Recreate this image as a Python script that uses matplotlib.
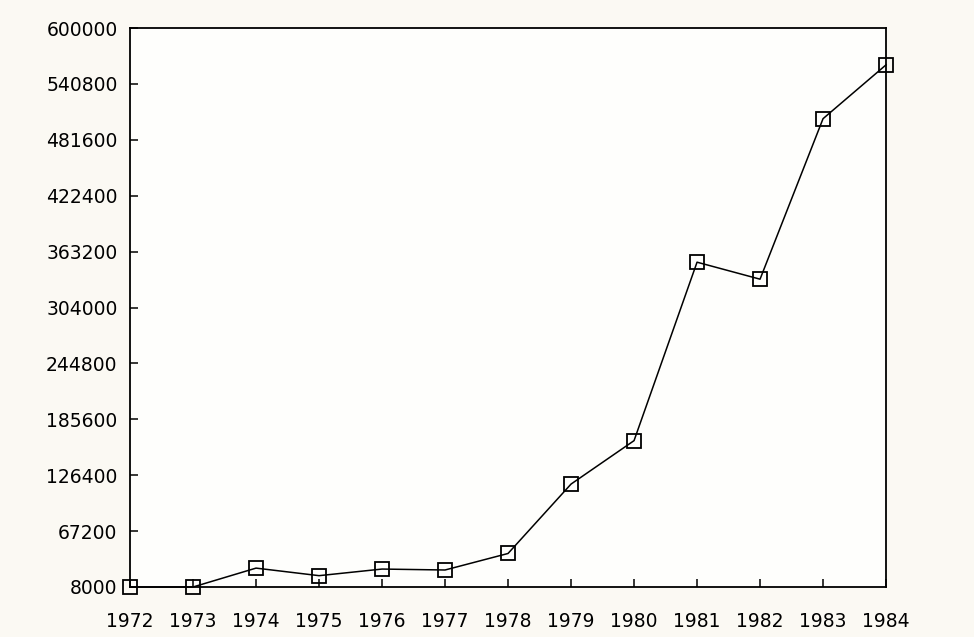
import matplotlib
matplotlib.use("Agg")
import matplotlib.pyplot as plt

years = [1972, 1973, 1974, 1975, 1976, 1977, 1978, 1979, 1980, 1981, 1982, 1983, 1984]
values = [8000, 8000, 28000, 20000, 27000, 26000, 43500, 117000, 163000, 352000, 334000, 504000, 561000]
ytick_values = [8000, 67200, 126400, 185600, 244800, 304000, 363200, 422400, 481600, 540800, 600000]

fig = plt.figure(figsize=(9.74, 6.37), dpi=100, facecolor="#fbf9f3")
ax = fig.add_axes([0.1335, 0.0785, 0.7762, 0.8775])
ax.set_facecolor("#fefefc")

ax.plot(years, values, color="black", linewidth=1.1, marker="s", markersize=9.5,
        markerfacecolor="none", markeredgecolor="black", markeredgewidth=1.3,
        clip_on=False, zorder=3)

ax.set_xlim(1972, 1984)
ax.set_ylim(8000, 600000)
ax.set_xticks(years)
ax.set_xticklabels([str(y) for y in years])
ax.set_yticks(ytick_values)
ax.set_yticklabels([str(v) for v in ytick_values])

for s in ax.spines.values():
    s.set_linewidth(1.3)
    s.set_color("black")

ax.tick_params(axis="both", direction="in", length=6, width=1.1, labelsize=13.5,
               colors="black")
ax.tick_params(axis="x", pad=18)
ax.tick_params(axis="y", pad=9)

fig.savefig("out.png", dpi=100, facecolor=fig.get_facecolor())
